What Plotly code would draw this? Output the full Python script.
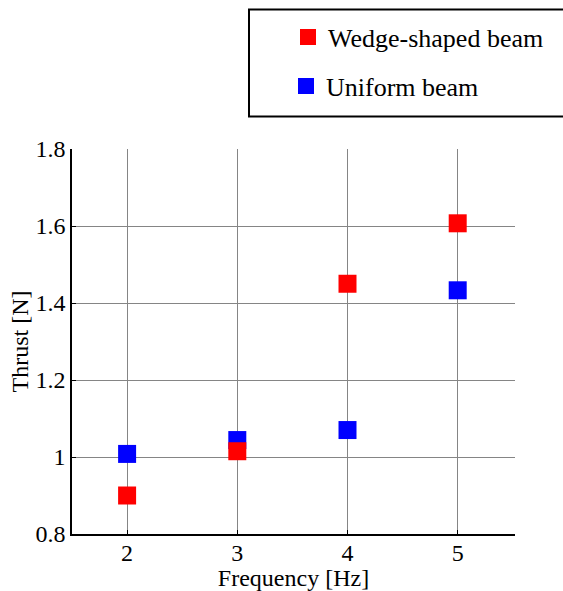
import plotly.graph_objects as go

# Data
frequency = [2, 3, 4, 5]
wedge_thrust = [0.90, 1.015, 1.45, 1.607]
uniform_thrust = [1.008, 1.044, 1.070, 1.433]

x_tickvals = [2, 3, 4, 5]
x_ticktext = ["2", "3", "4", "5"]
y_tickvals = [0.8, 1.0, 1.2, 1.4, 1.6, 1.8]
y_ticktext = ["0.8", "1", "1.2", "1.4", "1.6", "1.8"]

W, H = 563, 591
ML, MR, MT, MB = 72, 48, 149, 57
FONT = "Liberation Serif"

fig = go.Figure()
fig.add_trace(go.Scatter(
    x=frequency, y=uniform_thrust, mode="markers", name="Uniform beam",
    marker=dict(symbol="square", size=18, color="#0000ff", line=dict(width=0)),
    legend="legend2", showlegend=True))
fig.add_trace(go.Scatter(
    x=frequency, y=wedge_thrust, mode="markers", name="Wedge-shaped beam",
    marker=dict(symbol="square", size=18, color="#ff0000", line=dict(width=0)),
    legend="legend", showlegend=True))

# legend frame (decoration)
fig.add_shape(type="rect", xref="paper", yref="paper",
              x0=(249 - ML) / (W - ML - MR), x1=(575 - ML) / (W - ML - MR),
              y0=(H - MB - 116.5) / (H - MT - MB), y1=(H - MB - 9.5) / (H - MT - MB),
              line=dict(color="black", width=2), fillcolor="rgba(0,0,0,0)", layer="above")

leg_common = dict(xref="container", yref="container", xanchor="left", yanchor="middle",
                  bgcolor="rgba(0,0,0,0)", borderwidth=0, itemsizing="trace",
                  font=dict(family=FONT, size=26, color="black"))

fig.update_layout(
    width=W, height=H,
    showlegend=True,
    margin=dict(l=ML, r=MR, t=MT, b=MB, autoexpand=False),
    paper_bgcolor="white", plot_bgcolor="white",
    font=dict(family=FONT, size=24, color="black"),
    legend=dict(x=288 / W, y=1 - 37 / H, **leg_common),
    legend2=dict(x=286 / W, y=1 - 86 / H, **leg_common),
    xaxis=dict(
        range=[1.5, 5.52], tickvals=x_tickvals, ticktext=x_ticktext,
        showgrid=True, gridcolor="#858585", gridwidth=1,
        showline=True, linecolor="black", linewidth=1.5,
        ticks="inside", ticklen=4, tickcolor="black", zeroline=False,
        tickfont=dict(family=FONT, size=24), ticklabelstandoff=-4,
        title=dict(text="Frequency [Hz]", font=dict(family=FONT, size=24), standoff=6),
    ),
    yaxis=dict(
        range=[0.8, 1.8], tickvals=y_tickvals, ticktext=y_ticktext,
        showgrid=True, gridcolor="#858585", gridwidth=1,
        showline=True, linecolor="black", linewidth=1.5,
        ticks="inside", ticklen=4, tickcolor="black", zeroline=False,
        tickfont=dict(family=FONT, size=24),
        title=dict(text="Thrust [N]", font=dict(family=FONT, size=24), standoff=0),
    ),
)

fig.write_html("out.html", config={"displayModeBar": False},
               post_script="document.body.style.margin='0';document.body.style.overflow='hidden';")
